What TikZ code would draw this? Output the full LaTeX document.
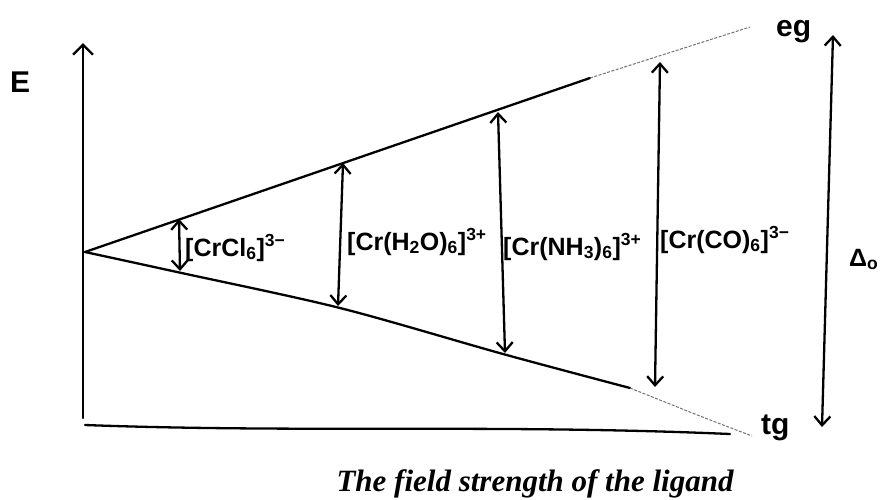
\documentclass[tikz,border=0pt]{standalone}
\usepackage{fontspec}
\setmainfont{Liberation Serif}
\newfontfamily\hand{Liberation Sans}
\usetikzlibrary{arrows.meta}
\begin{document}
\begin{tikzpicture}[x=1pt,y=-1pt,
  ink/.style={line width=2.3pt, line cap=round, line join=round},
  faint/.style={line width=1pt, black!55, dash pattern=on 3pt off 1.5pt},
  barb/.tip={Straight Barb[length=9pt,width=16pt]},
  dbl/.style={ink, barb-barb},
  lbl/.style={font=\hand\bfseries\fontsize{25}{28}\selectfont, inner sep=0pt, anchor=base west},
  big/.style={font=\hand\bfseries\fontsize{30}{34}\selectfont, inner sep=0pt, anchor=base west},
]
\useasboundingbox (0,0) rectangle (885,499);

% key points
\coordinate (o) at (85,252);
\coordinate (ysb) at (83,418);
\coordinate (yst) at (83,43);
\coordinate (xs) at (85,425);
\coordinate (xe) at (730,434);
\coordinate (up1) at (590,78);
\coordinate (up2) at (750,27);
\coordinate (lo1) at (630,388);
\coordinate (lo2) at (752,436);

% axes
\draw[ink, -{Straight Barb[length=10pt,width=20pt]}] (ysb) -- (yst);
\draw[ink] (xs) .. controls (300,433) and (500,424) .. (xe);

% upper (eg) line
\draw[ink] (o) -- (up1);
\draw[faint] (up1) -- (up2);
% lower (tg) line
\draw[ink] plot[smooth, tension=0.5] coordinates {(85,252) (177,272) (340,308) (503,354) (630,388)};
\draw[faint] plot[smooth, tension=0.5] coordinates {(630,388) (700,416) (752,436)};

% splitting arrows
\coordinate (a1t) at (179,219); \coordinate (a1b) at (180,271);
\coordinate (a2t) at (343,163); \coordinate (a2b) at (338,306);
\coordinate (a3t) at (498,112); \coordinate (a3b) at (505,353);
\coordinate (a4t) at (660,62);  \coordinate (a4b) at (655,387);
\coordinate (a5t) at (833,35);  \coordinate (a5b) at (822,427);
\draw[dbl] (a1t) -- (a1b);
\draw[dbl] (a2t) -- (a2b);
\draw[dbl] (a3t) -- (a3b);
\draw[dbl] (a4t) -- (a4b);
\draw[dbl] (a5t) -- (a5b);

% labels
\node[lbl] (l1) at (185,256) {[CrCl\textsubscript{6}]\textsuperscript{3−}};
\node[lbl] (l2) at (347,250) {[Cr(H\textsubscript{2}O)\textsubscript{6}]\textsuperscript{3+}};
\node[lbl] (l3) at (503,255) {[Cr(NH\textsubscript{3})\textsubscript{6}]\textsuperscript{3+}};
\node[lbl] (l4) at (660,248) {[Cr(CO)\textsubscript{6}]\textsuperscript{3−}};
\node[big] (eg) at (776,36) {eg};
\node[big] (tg) at (761,434) {tg};
\node[big] (E) at (10,92) {E};
\node[lbl] (D) at (849,266) {Δ\textsubscript{o}};

\node[font=\bfseries\itshape\fontsize{31}{36}\selectfont, inner sep=0pt, anchor=base] (cap) at (535,491) {The field strength of the ligand};
\end{tikzpicture}
\end{document}
